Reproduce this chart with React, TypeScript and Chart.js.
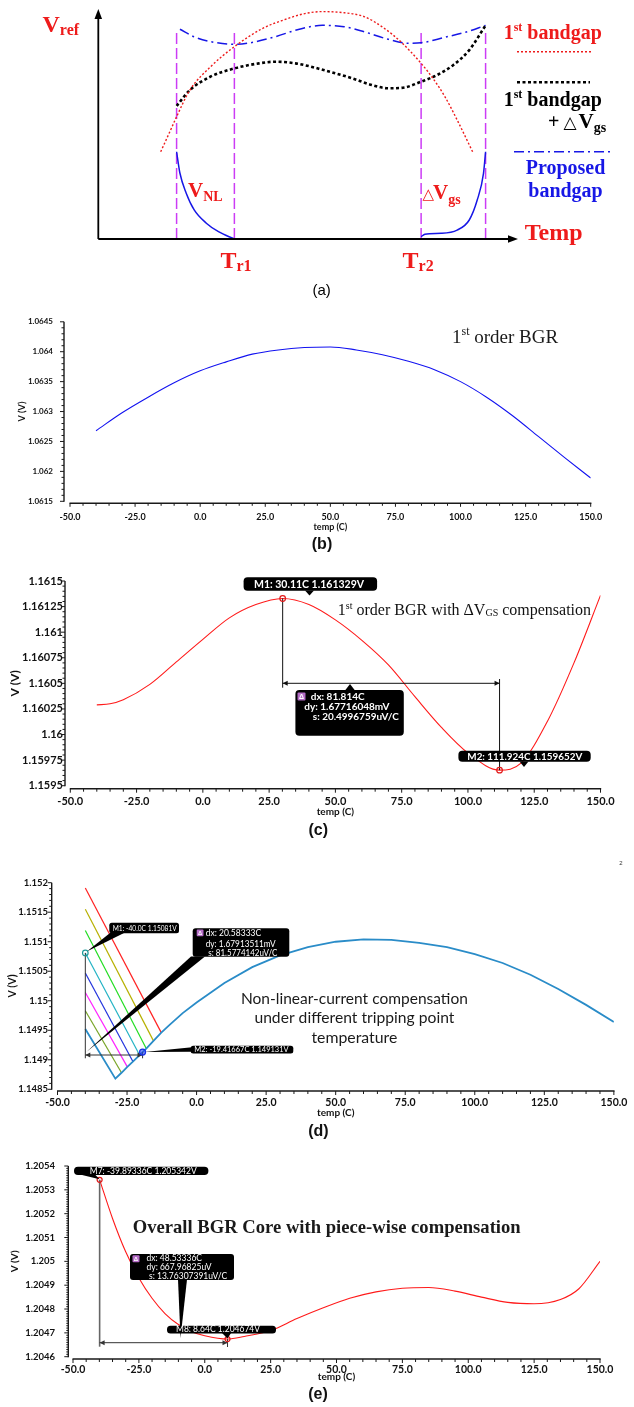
import React, { useEffect, useRef } from 'react';
import { Chart, registerables } from 'chart.js';
Chart.register(...registerables);

const SERIF = '"Liberation Serif", "Times New Roman", serif';
const SANS = '"Liberation Sans", Arial, sans-serif';
const CAL = 'Lato, "Open Sans", sans-serif';

// ---------- (a) schematic, arbitrary units (temp 0..100, Vref 0..100) ----------
const aFirstX = [14.9, 17.1, 18.7, 21.9, 26.8, 32.5, 39.3, 44.2, 49.0, 53.5, 58.7, 63.5, 68.3, 72.2, 77.1, 79.9, 82.8, 85.7, 89.4];
const aFirstY = [38.1, 46.9, 53.4, 65.1, 75.2, 84.0, 92.0, 95.6, 98.3, 99.3, 98.8, 97.1, 92.0, 86.2, 76.7, 70.2, 62.1, 52.0, 38.1];
const aDvgsX = [18.7, 21.9, 26.8, 32.5, 38.4, 42.2, 47.1, 53.8, 60.6, 65.4, 69.3, 73.2, 77.1, 80.9, 84.8, 88.6, 92.5];
const aDvgsY = [58.1, 65.1, 70.9, 74.5, 76.7, 77.4, 76.7, 73.8, 70.2, 67.2, 65.8, 66.2, 68.7, 71.6, 76.0, 82.5, 93.3];
const aPropX = [19.5, 22.9, 26.8, 32.5, 36.4, 42.2, 48.0, 53.5, 58.7, 63.5, 69.3, 74.1, 77.1, 82.8, 87.7, 92.5];
const aPropY = [91.6, 88.3, 86.2, 85.0, 85.7, 88.3, 91.6, 93.3, 92.7, 90.5, 87.2, 85.5, 85.7, 88.1, 90.3, 93.3];
const aVnlX = [18.7, 19.5, 21.0, 22.9, 25.8, 28.7, 32.5];
const aVnlY = [38.1, 28.7, 20.0, 12.7, 6.9, 3.2, 0];
const aDvgsCurX = [77.1, 78.0, 81.9, 85.7, 88.6, 90.5, 92.0, 92.5];
const aDvgsCurY = [1.0, 2.1, 2.5, 3.9, 8.3, 17.0, 28.7, 38.1];
const aTripX = [18.7, 32.5, 77.1, 92.5];
const aTripTop = [91.6, 91.6, 91.6, 91.6];

// ---------- (b) 1st order BGR ----------
const bTemp = [-40, -30, -20, -10, 0, 10, 20, 30, 40, 50, 60, 70, 80, 90, 100, 110, 120, 130, 140, 150];
const bVolt = [1.06268, 1.06298, 1.06324, 1.06348, 1.06368, 1.06383, 1.06396, 1.06403, 1.06407, 1.06408, 1.06403, 1.06395, 1.06384, 1.0637, 1.0635, 1.06324, 1.06293, 1.06258, 1.06223, 1.06189];
const bXTicks = [-50, -25, 0, 25, 50, 75, 100, 125, 150];
const bYTicks = [1.0615, 1.062, 1.0625, 1.063, 1.0635, 1.064, 1.0645];

// ---------- (c) 1st order BGR with dVgs ----------
const cTemp = [-40, -35, -30, -20, -10, 0, 10, 20, 30.11, 40, 50, 60, 70, 80, 90, 100, 111.924, 120, 130, 140, 150];
const cVolt = [1.16029, 1.1603, 1.16034, 1.16049, 1.16071, 1.16093, 1.16114, 1.16127, 1.161329, 1.16127, 1.16112, 1.16092, 1.16068, 1.16037, 1.16007, 1.15982, 1.159652, 1.15972, 1.16013, 1.1607, 1.16136];
const cXTicks = [-50, -25, 0, 25, 50, 75, 100, 125, 150];
const cYTicks = [1.1595, 1.15975, 1.16, 1.16025, 1.1605, 1.16075, 1.161, 1.16125, 1.1615];
const cMarkT = [30.11, 111.924];
const cMarkV = [1.161329, 1.159652];
const cMarkLabels = ['M1: 30.11C 1.161329V', 'M2: 111.924C 1.159652V'];
const cDelta = ['dx: 81.814C', 'dy: 1.67716048mV', 's: 20.4996759uV/C'];

// ---------- (d) non-linear-current compensation ----------
const dTemp = [-40, -29.2, -27, -24.9, -22.9, -20.5, -19.42, -18.1, -15.5, -12.7, -10, -5, 0, 10, 20, 30, 40, 50, 60, 70, 80, 90, 100, 110, 120, 130, 140, 150];
const dVolt = [1.14952, 1.14868, 1.14878, 1.14888, 1.14897, 1.14908, 1.149131, 1.14919, 1.14932, 1.14946, 1.14958, 1.14979, 1.14997, 1.1503, 1.15057, 1.15077, 1.15091, 1.151, 1.15104, 1.15103, 1.15098, 1.15091, 1.15079, 1.15064, 1.15044, 1.1502, 1.14993, 1.14964];
const dTripStartT = [-40, -40, -40, -40, -40, -40, -40];
const dTripStartV = [1.15191, 1.15155, 1.15119, 1.15081, 1.15047, 1.15014, 1.14983];
const dTripEndT = [-12.7, -15.5, -18.1, -20.5, -22.9, -24.9, -27.0];
const dTripEndV = [1.14946, 1.14932, 1.14919, 1.14908, 1.14897, 1.14888, 1.14878];
const dXTicks = [-50, -25, 0, 25, 50, 75, 100, 125, 150];
const dYTicks = [1.1485, 1.149, 1.1495, 1.15, 1.1505, 1.151, 1.1515, 1.152];
const dMarkT = [-40.0, -19.41667];
const dMarkV = [1.15081, 1.149131];
const dMarkLabels = ['M1: -40.0C 1.15081V', 'M2: -19.41667C 1.149131V'];
const dDelta = ['dx: 20.58333C', 'dy: 1.67913511mV', 's: 81.5774142uV/C'];

// ---------- (e) overall BGR core ----------
const eTemp = [-39.89336, -35, -30, -25, -20, -15, -10, -5, 0, 8.64, 15, 25, 35, 45, 55, 65, 75, 85, 95, 105, 115, 125, 135, 142, 150];
const eVolt = [1.205342, 1.20518, 1.20504, 1.20493, 1.204845, 1.20478, 1.204735, 1.204705, 1.204688, 1.204674, 1.204685, 1.20471, 1.20476, 1.204805, 1.204845, 1.204872, 1.204887, 1.20489, 1.204875, 1.20485, 1.204828, 1.204822, 1.20484, 1.204885, 1.205];
const eXTicks = [-50, -25, 0, 25, 50, 75, 100, 125, 150];
const eYTicks = [1.2046, 1.2047, 1.2048, 1.2049, 1.205, 1.2051, 1.2052, 1.2053, 1.2054];
const eMarkT = [-39.89336, 8.64];
const eMarkV = [1.205342, 1.204674];
const eMarkLabels = ['M7: -39.89336C 1.205342V', 'M8: 8.64C 1.204674V'];
const eDelta = ['dx: 48.53336C', 'dy: 667.96825uV', 's: 13.76307391uV/C'];

// ---------- styles ----------
const RED_A = '#ee1b1b';
const BLUE_A = '#1717e6';
const MAG_A = '#cc3cf5';
const D_TRIP_COLORS = ['#ff2222', '#b7b000', '#22dd22', '#22b2c4', '#2233dd', '#ff22ff', '#78a528'];
const D_MAIN = '#2a8cc8';

function pts(xs: number[], ys: number[]) {
  return xs.map((x, i) => ({ x, y: ys[i] }));
}

// ---------- drawing helpers ----------
function seg(ctx: any, x1: number, y1: number, x2: number, y2: number) {
  ctx.beginPath();
  ctx.moveTo(x1, y1);
  ctx.lineTo(x2, y2);
  ctx.stroke();
}
function poly(ctx: any, p: number[][], color: string) {
  ctx.beginPath();
  ctx.moveTo(p[0][0], p[0][1]);
  for (let i = 1; i < p.length; i++) ctx.lineTo(p[i][0], p[i][1]);
  ctx.closePath();
  ctx.fillStyle = color;
  ctx.fill();
}
function rrect(ctx: any, x: number, y: number, w: number, h: number, r: number, color: string) {
  ctx.beginPath();
  ctx.moveTo(x + r, y);
  ctx.arcTo(x + w, y, x + w, y + h, r);
  ctx.arcTo(x + w, y + h, x, y + h, r);
  ctx.arcTo(x, y + h, x, y, r);
  ctx.arcTo(x, y, x + w, y, r);
  ctx.closePath();
  ctx.fillStyle = color;
  ctx.fill();
}
function txt(ctx: any, s: string, x: number, y: number, font: string, color: string, align = 'left', baseline = 'alphabetic', maxW?: number) {
  ctx.font = font;
  ctx.fillStyle = color;
  ctx.textAlign = align;
  ctx.textBaseline = baseline;
  if (maxW) ctx.fillText(s, x, y, maxW);
  else ctx.fillText(s, x, y);
}
type Seg = { t: string; size: number; dy?: number; family?: string; weight?: string };
function rich(ctx: any, x: number, y: number, segs: Seg[], color: string, align = 'left') {
  const f = (s: Seg) => `${s.weight || 'normal'} ${s.size}px ${s.family || SERIF}`;
  let total = 0;
  segs.forEach((s) => {
    ctx.font = f(s);
    total += ctx.measureText(s.t).width;
  });
  let cx = align === 'center' ? x - total / 2 : x;
  ctx.textAlign = 'left';
  ctx.textBaseline = 'alphabetic';
  ctx.fillStyle = color;
  segs.forEach((s) => {
    ctx.font = f(s);
    ctx.fillText(s.t, cx, y + (s.dy || 0));
    cx += ctx.measureText(s.t).width;
  });
}
function dashLine(ctx: any, x1: number, y1: number, x2: number, y2: number, color: string, w: number, dash: number[]) {
  ctx.save();
  ctx.strokeStyle = color;
  ctx.lineWidth = w;
  ctx.setLineDash(dash);
  seg(ctx, x1, y1, x2, y2);
  ctx.restore();
}
function ring(ctx: any, x: number, y: number, r: number, color: string, fill?: string) {
  ctx.beginPath();
  ctx.arc(x, y, r, 0, Math.PI * 2);
  if (fill) {
    ctx.fillStyle = fill;
    ctx.fill();
  }
  ctx.strokeStyle = color;
  ctx.lineWidth = 1.2;
  ctx.stroke();
}
function hArrow(ctx: any, x1: number, x2: number, y: number, color: string) {
  ctx.strokeStyle = color;
  ctx.lineWidth = 1;
  seg(ctx, x1, y, x2, y);
  poly(ctx, [[x1, y], [x1 + 5, y - 2.5], [x1 + 5, y + 2.5]], color);
  poly(ctx, [[x2, y], [x2 - 5, y - 2.5], [x2 - 5, y + 2.5]], color);
}
function deltaIcon(ctx: any, x: number, y: number, s: number) {
  rrect(ctx, x, y, s, s, 1, '#b46cc6');
  txt(ctx, '\u0394', x + s / 2, y + s / 2 + 0.5, `bold ${s - 1}px ${SANS}`, '#fff', 'center', 'middle');
}

function drawAxes(chart: any, o: any) {
  const { ctx, chartArea: a, scales } = chart;
  const xs = scales.x;
  const ys = scales.y;
  const ax = a.left - o.yGap;
  const ay = a.bottom + o.xGap;
  ctx.save();
  ctx.strokeStyle = '#1a1a1a';
  ctx.lineWidth = 1.4;
  ctx.beginPath();
  ctx.moveTo(ax, a.top);
  ctx.lineTo(ax, a.bottom + 0.5);
  ctx.moveTo(a.left - 0.5, ay);
  ctx.lineTo(a.right + 0.7, ay);
  ctx.stroke();
  ctx.lineWidth = 1;
  ctx.beginPath();
  const yv = ys.ticks.map((t: any) => t.value);
  yv.forEach((v: number, i: number) => {
    const p = ys.getPixelForValue(v);
    ctx.moveTo(ax - o.yMajor, p);
    ctx.lineTo(ax, p);
    if (i < yv.length - 1) {
      for (let k = 1; k < o.yMinorN; k++) {
        const pp = ys.getPixelForValue(v + ((yv[i + 1] - v) * k) / o.yMinorN);
        ctx.moveTo(ax - o.yMinor, pp);
        ctx.lineTo(ax, pp);
      }
    }
  });
  const xv = xs.ticks.map((t: any) => t.value);
  xv.forEach((v: number, i: number) => {
    const p = xs.getPixelForValue(v);
    ctx.moveTo(p, ay);
    ctx.lineTo(p, ay + o.xMajor);
    if (i < xv.length - 1) {
      for (let k = 1; k < o.xMinorN; k++) {
        const pp = xs.getPixelForValue(v + ((xv[i + 1] - v) * k) / o.xMinorN);
        ctx.moveTo(pp, ay);
        ctx.lineTo(pp, ay + o.xMinor);
      }
    }
  });
  ctx.stroke();
  ctx.restore();
}

function scaleX(ticks: number[], o: any) {
  return {
    type: 'linear',
    position: 'bottom',
    min: ticks[0],
    max: ticks[ticks.length - 1],
    afterBuildTicks: (s: any) => {
      s.ticks = ticks.map((v) => ({ value: v }));
    },
    afterFit: (s: any) => {
      s.height = o.h;
    },
    grid: { display: false, drawTicks: false },
    border: { display: false },
    ticks: {
      autoSkip: false,
      maxRotation: 0,
      minRotation: 0,
      padding: o.pad,
      color: '#111',
      font: { family: CAL, weight: 'bold', size: o.size },
      callback: (v: any) => Number(v).toFixed(1),
    },
    title: {
      display: true,
      text: 'temp (C)',
      color: '#111',
      font: { family: CAL, weight: 'bold', size: o.tsize },
      padding: { top: 0, bottom: o.tpb },
    },
  };
}
function scaleY(ticks: number[], o: any) {
  return {
    type: 'linear',
    position: 'left',
    min: ticks[0],
    max: ticks[ticks.length - 1],
    afterBuildTicks: (s: any) => {
      s.ticks = ticks.map((v) => ({ value: v }));
    },
    afterFit: (s: any) => {
      s.width = o.w;
    },
    grid: { display: false, drawTicks: false },
    border: { display: false },
    ticks: {
      autoSkip: false,
      padding: o.pad,
      color: '#111',
      font: { family: CAL, weight: 'bold', size: o.size },
      callback: (v: any) => String(v),
    },
    title: {
      display: true,
      text: 'V (V)',
      color: '#111',
      font: { family: CAL, weight: 'bold', size: o.tsize },
      padding: { top: o.tpt, bottom: 0 },
    },
  };
}

const baseOpts = {
  animation: false,
  responsive: false,
  maintainAspectRatio: false,
  devicePixelRatio: 1,
  events: [],
  plugins: { legend: { display: false }, tooltip: { enabled: false }, title: { display: false } },
};

// ---------- chart configs ----------
function configA() {
  const curve = (data: any, color: string, w: number, dash: number[]) => ({
    data,
    borderColor: color,
    borderWidth: w,
    borderDash: dash,
    pointRadius: 0,
    cubicInterpolationMode: 'monotone',
    fill: false,
  });
  const trips = aTripX.map((x, i) => ({
    data: [{ x, y: 0 }, { x, y: aTripTop[i] }],
    borderColor: MAG_A,
    borderWidth: 1.5,
    borderDash: [11, 4],
    pointRadius: 0,
    tension: 0,
    fill: false,
  }));
  return {
    type: 'line',
    data: {
      datasets: [
        curve(pts(aFirstX, aFirstY), RED_A, 1.4, [2, 2]),
        curve(pts(aDvgsX, aDvgsY), '#000', 2.6, [3, 2.5]),
        curve(pts(aPropX, aPropY), BLUE_A, 1.5, [10, 4, 2, 4]),
        curve(pts(aVnlX, aVnlY), BLUE_A, 1.5, []),
        curve(pts(aDvgsCurX, aDvgsCurY), BLUE_A, 1.5, []),
        ...trips,
      ],
    },
    options: {
      ...baseOpts,
      layout: { padding: { left: 98.3, right: 117, top: 10, bottom: 61 } },
      scales: {
        x: { type: 'linear', display: false, min: 0, max: 100 },
        y: { type: 'linear', display: false, min: 0, max: 100 },
      },
    },
    plugins: [
      {
        id: 'annA',
        afterDraw(chart: any) {
          const { ctx, chartArea: a } = chart;
          ctx.save();
          ctx.strokeStyle = '#000';
          ctx.lineWidth = 1.8;
          seg(ctx, a.left, a.bottom, a.left, a.top + 8);
          seg(ctx, a.left, a.bottom, a.right - 8, a.bottom);
          poly(ctx, [[a.left, a.top - 1], [a.left - 3.8, a.top + 9], [a.left + 3.8, a.top + 9]], '#000');
          poly(ctx, [[a.right + 1, a.bottom], [a.right - 9, a.bottom - 3.8], [a.right - 9, a.bottom + 3.8]], '#000');
          dashLine(ctx, 517, 51.7, 591.5, 51.7, RED_A, 1.4, [2, 2]);
          dashLine(ctx, 517, 82.3, 590, 82.3, '#000', 2.6, [3, 2.5]);
          dashLine(ctx, 514, 151.7, 613, 151.7, BLUE_A, 1.5, [10, 4, 2, 4]);
          const B = 'bold';
          rich(ctx, 42.5, 32.3, [{ t: 'V', size: 24, weight: B }, { t: 'ref', size: 16, weight: B, dy: 3 }], RED_A);
          rich(ctx, 503.7, 39.3, [{ t: '1', size: 20, weight: B }, { t: 'st', size: 12, weight: B, dy: -8 }, { t: ' bandgap', size: 20, weight: B }], RED_A);
          rich(ctx, 503.7, 106, [{ t: '1', size: 20, weight: B }, { t: 'st', size: 12, weight: B, dy: -8 }, { t: ' bandgap', size: 20, weight: B }], '#000');
          txt(ctx, '+', 548, 127.5, `bold 20px ${SERIF}`, '#000');
          txt(ctx, '\u25B3', 563.5, 127.5, `bold 17px "DejaVu Sans"`, '#000');
          rich(ctx, 578.6, 127.7, [{ t: 'V', size: 21, weight: B }, { t: 'gs', size: 14, weight: B, dy: 4.5 }], '#000');
          txt(ctx, 'Proposed', 565.5, 174, `bold 20px ${SERIF}`, BLUE_A, 'center');
          txt(ctx, 'bandgap', 565.5, 197.3, `bold 20px ${SERIF}`, BLUE_A, 'center');
          txt(ctx, 'Temp', 524.8, 240, `bold 24px ${SERIF}`, RED_A);
          rich(ctx, 188, 197.3, [{ t: 'V', size: 21, weight: B }, { t: 'NL', size: 14, weight: B, dy: 4 }], RED_A);
          txt(ctx, '\u25B3', 422.5, 199, `bold 15px "DejaVu Sans"`, RED_A);
          rich(ctx, 433, 199, [{ t: 'V', size: 21, weight: B }, { t: 'gs', size: 14, weight: B, dy: 4.5 }], RED_A);
          rich(ctx, 220.5, 268.3, [{ t: 'T', size: 24, weight: B }, { t: 'r1', size: 16, weight: B, dy: 2.5 }], RED_A);
          rich(ctx, 402.6, 268.3, [{ t: 'T', size: 24, weight: B }, { t: 'r2', size: 16, weight: B, dy: 2.5 }], RED_A);
          txt(ctx, '(a)', 321.7, 295, `15px ${SANS}`, '#000', 'center');
          ctx.restore();
        },
      },
    ],
  };
}

function configB() {
  return {
    type: 'line',
    data: {
      datasets: [
        { data: pts(bTemp, bVolt), borderColor: '#1212f0', borderWidth: 1.1, pointRadius: 0, cubicInterpolationMode: 'monotone', fill: false },
      ],
    },
    options: {
      ...baseOpts,
      layout: { padding: { left: 0, right: 43.3, top: 5.7, bottom: 0 } },
      scales: {
        x: scaleX(bXTicks, { h: 58.7, pad: 10, size: 9, tsize: 9, tpb: 27.9 }),
        y: scaleY(bYTicks, { w: 70, pad: 17, size: 8, tsize: 9, tpt: 16.3 }),
      },
    },
    plugins: [
      {
        id: 'annB',
        afterDraw(chart: any) {
          const { ctx } = chart;
          drawAxes(chart, { yGap: 6, xGap: 2, yMajor: 4, yMinor: 2.5, yMinorN: 5, xMajor: 3.5, xMinor: 2.5, xMinorN: 5 });
          ctx.save();
          rich(ctx, 452, 43, [{ t: '1', size: 19 }, { t: 'st', size: 12, dy: -8 }, { t: ' order BGR', size: 19 }], '#1a1a1a');
          txt(ctx, '(b)', 322, 245, `bold 16px ${SANS}`, '#111', 'center', 'middle');
          ctx.restore();
        },
      },
    ],
  };
}

function configC() {
  return {
    type: 'line',
    data: {
      datasets: [
        { data: pts(cTemp, cVolt), borderColor: '#ff1a1a', borderWidth: 1.1, pointRadius: 0, cubicInterpolationMode: 'monotone', fill: false },
      ],
    },
    options: {
      ...baseOpts,
      layout: { padding: { left: 0, right: 33.5, top: 21, bottom: 0 } },
      scales: {
        x: scaleX(cXTicks, { h: 54.3, pad: 8.7, size: 11, tsize: 10, tpb: 22 }),
        y: scaleY(cYTicks, { w: 70.3, pad: 7.3, size: 11, tsize: 12, tpt: 7.8 }),
      },
    },
    plugins: [
      {
        id: 'annC',
        afterDraw(chart: any) {
          const { ctx, scales } = chart;
          drawAxes(chart, { yGap: 5.3, xGap: 3, yMajor: 4, yMinor: 2.5, yMinorN: 5, xMajor: 4, xMinor: 3, xMinorN: 5 });
          const m1x = scales.x.getPixelForValue(cMarkT[0]);
          const m1y = scales.y.getPixelForValue(cMarkV[0]);
          const m2x = scales.x.getPixelForValue(cMarkT[1]);
          const m2y = scales.y.getPixelForValue(cMarkV[1]);
          ctx.save();
          ctx.strokeStyle = '#111';
          ctx.lineWidth = 1;
          seg(ctx, m1x, m1y, m1x, 127.7);
          seg(ctx, m2x, m2y, m2x, 119);
          hArrow(ctx, m1x, m2x, 123.3, '#111');
          ring(ctx, m1x, m1y, 2.8, '#e01818');
          ring(ctx, m2x, m2y, 2.8, '#e01818');
          // M1 callout
          rrect(ctx, 243.6, 17.3, 133.5, 13.4, 4, '#000');
          poly(ctx, [[305, 30.5], [314, 30.5], [309.5, 35.5]], '#000');
          txt(ctx, cMarkLabels[0], 254, 24.3, `bold 10.5px ${CAL}`, '#fff', 'left', 'middle', 116);
          // M2 callout
          rrect(ctx, 458.4, 190.7, 132.3, 11, 4, '#000');
          poly(ctx, [[519.5, 201.5], [528.5, 201.5], [524, 207]], '#000');
          txt(ctx, cMarkLabels[1], 467.3, 196.4, `bold 10px ${CAL}`, '#fff', 'left', 'middle', 115);
          // delta box
          rrect(ctx, 295.4, 130, 108.4, 45.7, 4, '#000');
          poly(ctx, [[345, 130.5], [355, 130.5], [350, 124]], '#000');
          deltaIcon(ctx, 297.5, 132.5, 8);
          txt(ctx, cDelta[0], 310.7, 136.9, `bold 10px ${CAL}`, '#fff', 'left', 'middle');
          txt(ctx, cDelta[1], 304.3, 146.9, `bold 10px ${CAL}`, '#fff', 'left', 'middle', 90);
          txt(ctx, cDelta[2], 312.8, 156.9, `bold 10px ${CAL}`, '#fff', 'left', 'middle', 86);
          rich(
            ctx,
            337.8,
            55,
            [
              { t: '1', size: 16 },
              { t: 'st', size: 10, dy: -6.5 },
              { t: ' order BGR with ', size: 16 },
              { t: '\u0394V', size: 16 },
              { t: 'GS', size: 10, dy: 1 },
              { t: ' compensation', size: 16 },
            ],
            '#111'
          );
          txt(ctx, '(c)', 318.2, 270.7, `bold 16px ${SANS}`, '#111', 'center', 'middle');
          ctx.restore();
        },
      },
    ],
  };
}

function configD() {
  const trips = dTripStartV.map((v, i) => ({
    data: [{ x: dTripStartT[i], y: v }, { x: dTripEndT[i], y: dTripEndV[i] }],
    borderColor: D_TRIP_COLORS[i],
    borderWidth: 1.2,
    pointRadius: 0,
    tension: 0,
    fill: false,
  }));
  return {
    type: 'line',
    data: {
      datasets: [
        { data: pts(dTemp, dVolt), borderColor: D_MAIN, borderWidth: 1.8, pointRadius: 0, tension: 0, fill: false },
        ...trips,
      ],
    },
    options: {
      ...baseOpts,
      layout: { padding: { left: 0, right: 17.5, top: 42.7, bottom: 0 } },
      scales: {
        x: scaleX(dXTicks, { h: 50.7, pad: 6.7, size: 10.5, tsize: 10, tpb: 21.3 }),
        y: scaleY(dYTicks, { w: 57.5, pad: 9.5, size: 9.5, tsize: 10.5, tpt: 6.4 }),
      },
    },
    plugins: [
      {
        id: 'annD',
        afterDraw(chart: any) {
          const { ctx, scales } = chart;
          drawAxes(chart, { yGap: 5.8, xGap: 1.7, yMajor: 4, yMinor: 2.5, yMinorN: 5, xMajor: 4, xMinor: 3, xMinorN: 5 });
          const m1x = scales.x.getPixelForValue(dMarkT[0]);
          const m1y = scales.y.getPixelForValue(dMarkV[0]);
          const m2x = scales.x.getPixelForValue(dMarkT[1]);
          const m2y = scales.y.getPixelForValue(dMarkV[1]);
          ctx.save();
          ctx.strokeStyle = '#333';
          ctx.lineWidth = 1;
          seg(ctx, m1x, m1y, m1x, 218.3);
          seg(ctx, m2x, m2y, m2x, 218.3);
          hArrow(ctx, m1x, m2x, 215, '#333');
          // pointers
          poly(ctx, [[110, 93], [124, 93], [m1x + 1.5, m1y - 1.5]], '#000');
          poly(ctx, [[191, 116.5], [205, 116.5], [m1x + 1, 212]], '#000');
          poly(ctx, [[192, 207.2], [192, 211.8], [m2x + 2, m2y]], '#000');
          ring(ctx, m1x, m1y, 2.8, '#1f9a9a');
          ring(ctx, m2x, m2y, 3, '#1830e8', 'rgba(40,70,240,0.6)');
          // callouts
          rrect(ctx, 109.3, 82.7, 69.7, 10.6, 2.5, '#000');
          txt(ctx, dMarkLabels[0], 112.7, 88.2, `7.5px ${CAL}`, '#fff', 'left', 'middle', 64);
          rrect(ctx, 192.7, 88.3, 96.6, 28.4, 3, '#000');
          deltaIcon(ctx, 196.7, 89.5, 6.8);
          txt(ctx, dDelta[0], 205.7, 93.6, `8.5px ${CAL}`, '#fff', 'left', 'middle');
          txt(ctx, dDelta[1], 205.7, 104, `8.5px ${CAL}`, '#fff', 'left', 'middle', 70);
          txt(ctx, dDelta[2], 208.3, 113.4, `8.5px ${CAL}`, '#fff', 'left', 'middle', 69);
          rrect(ctx, 190.7, 205.7, 102.6, 7.8, 2.5, '#000');
          txt(ctx, dMarkLabels[1], 194.3, 209.7, `7.5px ${CAL}`, '#fff', 'left', 'middle', 96);
          txt(ctx, 'Non-linear-current compensation', 354.4, 164, `16px ${CAL}`, '#1a1a1a', 'center', 'alphabetic', 227);
          txt(ctx, 'under different tripping point', 354.4, 183.3, `16px ${CAL}`, '#1a1a1a', 'center', 'alphabetic', 200);
          txt(ctx, 'temperature', 354.4, 202.7, `16px ${CAL}`, '#1a1a1a', 'center', 'alphabetic', 86);
          txt(ctx, '2', 621, 23, `6px ${SANS}`, '#333', 'center', 'middle');
          txt(ctx, '(d)', 318.4, 291.7, `bold 16px ${SANS}`, '#111', 'center', 'middle');
          ctx.restore();
        },
      },
    ],
  };
}

function configE() {
  return {
    type: 'line',
    data: {
      datasets: [
        { data: pts(eTemp, eVolt), borderColor: '#ff1a1a', borderWidth: 1.1, pointRadius: 0, cubicInterpolationMode: 'monotone', fill: false },
      ],
    },
    options: {
      ...baseOpts,
      layout: { padding: { left: 0, right: 34, top: 26, bottom: 0 } },
      scales: {
        x: scaleX(eXTicks, { h: 50.3, pad: 6.3, size: 10.5, tsize: 10, tpb: 24.3 }),
        y: scaleY(eYTicks, { w: 73, pad: 18, size: 9.5, tsize: 10, tpt: 9 }),
      },
    },
    plugins: [
      {
        id: 'annE',
        afterDraw(chart: any) {
          const { ctx, scales } = chart;
          drawAxes(chart, { yGap: 4.7, xGap: 2.3, yMajor: 4, yMinor: 2, yMinorN: 10, xMajor: 4, xMinor: 3, xMinorN: 5 });
          const m1x = scales.x.getPixelForValue(eMarkT[0]);
          const m1y = scales.y.getPixelForValue(eMarkV[0]);
          const m2x = scales.x.getPixelForValue(eMarkT[1]);
          const m2y = scales.y.getPixelForValue(eMarkV[1]);
          ctx.save();
          ctx.strokeStyle = '#666';
          ctx.lineWidth = 1.6;
          seg(ctx, m1x, m1y, m1x, 206.7);
          ctx.lineWidth = 1;
          ctx.strokeStyle = '#333';
          seg(ctx, m2x, m2y, m2x, 207);
          hArrow(ctx, m1x, m2x, 202.7, '#333');
          ring(ctx, m1x, m1y, 2.5, '#e01818');
          ring(ctx, m2x, m2y, 2.5, '#e01818');
          // M7 callout
          rrect(ctx, 74, 26.7, 134.4, 8.3, 4, '#000');
          poly(ctx, [[80, 34.5], [95, 34.5], [m1x, m1y - 0.5]], '#000');
          txt(ctx, eMarkLabels[0], 89.8, 31, `8.5px ${CAL}`, '#fff', 'left', 'middle', 112);
          // delta box
          rrect(ctx, 130, 114, 104, 26, 3, '#000');
          deltaIcon(ctx, 132.5, 115.3, 7);
          txt(ctx, eDelta[0], 146.5, 118.5, `8.5px ${CAL}`, '#fff', 'left', 'middle');
          txt(ctx, eDelta[1], 146.5, 127.4, `8.5px ${CAL}`, '#fff', 'left', 'middle', 68);
          txt(ctx, eDelta[2], 149, 136.3, `8.5px ${CAL}`, '#fff', 'left', 'middle', 82);
          // M8 callout
          rrect(ctx, 167, 185.7, 109, 7.8, 3.5, '#000');
          poly(ctx, [[222, 193], [231, 193], [m2x, m2y - 0.5]], '#000');
          poly(ctx, [[178, 139.5], [187, 139.5], [180.5, 198]], '#000');
          txt(ctx, eMarkLabels[1], 176, 189.7, `8.5px ${CAL}`, '#fff', 'left', 'middle', 87);
          txt(ctx, 'Overall BGR Core with piece-wise compensation', 132.7, 93.3, `bold 19px ${SERIF}`, '#1a1a1a', 'left', 'alphabetic', 388);
          txt(ctx, '(e)', 318, 255, `bold 16px ${SANS}`, '#111', 'center', 'middle');
          ctx.restore();
        },
      },
    ],
  };
}

function ChartCanvas({ top, height, make }: { top: number; height: number; make: () => any }) {
  const ref = useRef<HTMLCanvasElement | null>(null);
  useEffect(() => {
    const chart = new Chart(ref.current as HTMLCanvasElement, make());
    return () => chart.destroy();
  }, []);
  return (
    <canvas
      ref={ref}
      width={634}
      height={height}
      style={{ position: 'absolute', left: 0, top, width: 634, height, display: 'block' }}
    />
  );
}

export default function App() {
  return (
    <div style={{ position: 'absolute', left: 0, top: 0, width: 634, height: 1407, background: '#fff' }}>
      <ChartCanvas top={0} height={300} make={configA} />
      <ChartCanvas top={300} height={260} make={configB} />
      <ChartCanvas top={560} height={280} make={configC} />
      <ChartCanvas top={840} height={300} make={configD} />
      <ChartCanvas top={1140} height={267} make={configE} />
    </div>
  );
}
